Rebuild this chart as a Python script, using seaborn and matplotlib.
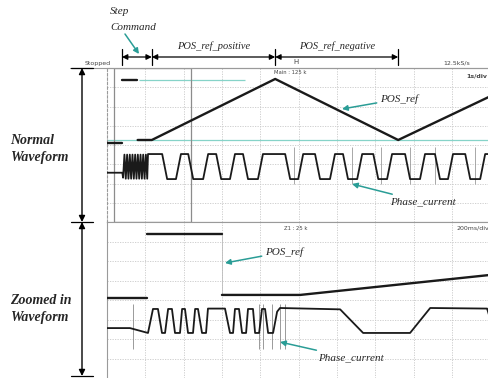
import numpy as np
import pandas as pd
import matplotlib.pyplot as plt
import matplotlib.transforms as mtransforms
from matplotlib.patches import Rectangle
import seaborn as sns

# ---- Normal waveform (1 s/div), levels in screen divisions (0..8) ----
top_pos_t = [0.0, 0.39, 0.39, 0.78, 0.80, 1.17, 4.39, 7.60, 9.97]
top_pos_v = [4.10, 4.10, 7.38, 7.38, 4.26, 4.26, 7.43, 4.26, 6.50]
top_pos_seg = [0, 0, 1, 1, 2, 2, 2, 2, 2]

top_cur_t = [0.0, 0.40, 0.42, 0.455, 0.49, 0.525, 0.56, 0.595, 0.63, 0.665, 0.70,
             0.735, 0.77, 0.805, 0.84, 0.875, 0.91, 0.945, 0.98, 1.015, 1.05,
             1.07, 1.44, 1.57, 1.80, 1.93, 2.12, 2.25, 2.51, 2.64, 2.85, 2.98,
             3.21, 3.34, 3.55, 3.68, 3.94, 4.07, 4.65, 4.78, 4.99, 5.12, 5.43,
             5.56, 5.82, 5.95, 6.16, 6.29, 6.53, 6.66, 6.95, 7.08, 7.31, 7.44,
             7.78, 7.91, 8.17, 8.30, 8.56, 8.69, 8.90, 9.03, 9.35, 9.48, 9.74,
             9.87, 9.97]
top_cur_v = [2.56, 2.56, 2.30, 3.50, 2.25, 3.50, 2.25, 3.50, 2.25, 3.50, 2.25,
             3.50, 2.25, 3.50, 2.25, 3.50, 2.25, 3.50, 2.25, 3.50, 2.25,
             3.53, 3.53, 2.23, 2.23, 3.53, 3.53, 2.23, 2.23, 3.53, 3.53, 2.23,
             2.23, 3.53, 3.53, 2.23, 2.23, 3.53, 3.53, 2.23, 2.23, 3.53, 3.53,
             2.23, 2.23, 3.53, 3.53, 2.23, 2.23, 3.53, 3.53, 2.23, 2.23, 3.53,
             3.53, 2.23, 2.23, 3.53, 3.53, 2.23, 2.23, 3.53, 3.53, 2.23, 2.23,
             3.53, 3.53]
top_spikes = [4.88, 6.40, 7.14, 7.90, 8.57, 9.61]

trigger_level = 4.26
step_level = 7.38
step_cursor = [0.83, 3.60]
zoom_window = [0.18, 2.19]

# ---- Zoomed in waveform (200 ms/div) ----
bot_pos_t = [0.0, 0.209, 0.209, 0.60, 0.60, 1.008, 1.995]
bot_pos_v = [4.10, 4.10, 7.38, 7.38, 4.26, 4.26, 5.28]
bot_pos_seg = [0, 0, 1, 1, 2, 2, 2]

bot_cur_t = [0.0, 0.120, 0.214, 0.240, 0.266, 0.287, 0.303, 0.319, 0.339, 0.355,
             0.381, 0.392, 0.407, 0.423, 0.449, 0.460, 0.475, 0.496, 0.517,
             0.527, 0.616, 0.642, 0.658, 0.668, 0.689, 0.705, 0.726, 0.736,
             0.762, 0.773, 0.794, 0.809, 0.825, 0.841, 0.867, 0.888, 0.903,
             1.217, 1.337, 1.582, 1.687, 1.984, 1.995]
bot_cur_v = [2.56, 2.56, 2.31, 3.54, 3.54, 2.31, 2.31, 3.54, 3.54, 2.31,
             2.31, 3.54, 3.54, 2.31, 2.31, 3.54, 3.54, 2.31, 2.31,
             3.56, 3.56, 2.31, 2.31, 3.54, 3.54, 2.31, 2.31, 3.54,
             3.54, 2.31, 2.31, 3.54, 3.54, 2.31, 2.31, 3.40, 3.59,
             3.52, 2.31, 2.31, 3.59, 3.56, 3.20]
bot_spikes = [0.135, 0.795, 0.815, 0.86, 0.905, 0.93]

sns.set_style("white")
plt.rcParams['font.family'] = ['DejaVu Sans']

fig = plt.figure(figsize=(4.89, 3.78), dpi=100)
ax_top = fig.add_axes([107 / 489, 156 / 378, 382 / 489, 154 / 378])
ax_bot = fig.add_axes([107 / 489, 0.0, 382 / 489, 156 / 378])

trace = '#1a1a1a'
teal = '#2a9d96'
cyan = '#86d3c8'
grid = '#c9c9c9'

for ax, xmax, step in [(ax_top, 9.97, 1.0), (ax_bot, 1.994, 0.2)]:
    ax.set_xlim(0, xmax)
    ax.set_ylim(0, 8)
    ax.set_xticks(np.arange(10) * step)
    ax.set_yticks(range(1, 8))
    ax.grid(True, color=grid, lw=0.6, ls=(0, (1.5, 1.5)))
    ax.tick_params(length=0, labelleft=False, labelbottom=False)
    for s in ax.spines.values():
        s.set_color('#9a9a9a')
        s.set_linewidth(0.8)
ax_top.spines['left'].set_linestyle((0, (2, 2)))
ax_bot.spines['bottom'].set_visible(False)
ax_top.spines['bottom'].set_color('#7a7a7a')

# ---- top panel ----
ax_top.axhline(trigger_level, color=cyan, lw=0.9, zorder=1)
ax_top.hlines(step_level, step_cursor[0], step_cursor[1], color=cyan, lw=0.9, zorder=1)
ax_top.add_patch(Rectangle((zoom_window[0], 0), zoom_window[1] - zoom_window[0], 8,
                           fill=False, ec='#8c8c8c', lw=0.9, zorder=2))
ax_top.vlines(top_spikes, 2.0, 3.9, color='#9a9a9a', lw=0.6, zorder=2)

df_pos = pd.DataFrame({'t': top_pos_t, 'v': top_pos_v, 'seg': top_pos_seg})
sns.lineplot(data=df_pos, x='t', y='v', units='seg', estimator=None, sort=False,
             color=trace, lw=1.7, ax=ax_top, zorder=3)
df_cur = pd.DataFrame({'t': top_cur_t, 'v': top_cur_v})
sns.lineplot(data=df_cur, x='t', y='v', estimator=None, sort=False,
             color=trace, lw=1.3, ax=ax_top, zorder=3)

# ---- bottom panel ----
ax_bot.vlines(bot_spikes, 1.5, 3.8, color='#8a8a8a', lw=0.6, zorder=2)
df_bpos = pd.DataFrame({'t': bot_pos_t, 'v': bot_pos_v, 'seg': bot_pos_seg})
sns.lineplot(data=df_bpos, x='t', y='v', units='seg', estimator=None, sort=False,
             color=trace, lw=1.7, ax=ax_bot, zorder=3)
ax_bot.vlines(bot_pos_t[3], bot_pos_v[4], bot_pos_v[3], color='#bbbbbb', lw=0.6)
df_bcur = pd.DataFrame({'t': bot_cur_t, 'v': bot_cur_v})
sns.lineplot(data=df_bcur, x='t', y='v', estimator=None, sort=False,
             color=trace, lw=1.3, ax=ax_bot, zorder=3)

for ax in (ax_top, ax_bot):
    ax.set_xlabel('')
    ax.set_ylabel('')

# ---- annotation layer (figure pixels) ----
ann = fig.add_axes([0, 0, 1, 1], zorder=5)
ann.set_xlim(0, 489)
ann.set_ylim(378, 0)
ann.axis('off')
ann.patch.set_alpha(0)

serif = 'Liberation Serif'
scope = dict(family='DejaVu Sans', color='#444444')

ann.text(111, 63, 'Stopped', ha='right', va='center', fontsize=4.5, **scope)
ann.text(470, 63, '12.5kS/s', ha='right', va='center', fontsize=4.5, **scope)
ann.text(487, 76, '1s/div', ha='right', va='center', fontsize=4.5, fontweight='bold', **scope)
ann.text(290, 72, 'Main : 125 k', ha='center', va='center', fontsize=3.8, **scope)
ann.text(296, 62, 'H', ha='center', va='center', fontsize=5, **scope)
ann.text(296, 228, 'Z1 : 25 k', ha='center', va='center', fontsize=3.8, **scope)
ann.text(489, 228, '200ms/div', ha='right', va='center', fontsize=4.5, **scope)
ann.plot([70, 489], [68, 68], color='#9a9a9a', lw=0.8)

# left brackets
for y0, y1 in [(68, 222), (222, 376)]:
    ann.annotate('', xy=(82, y0), xytext=(82, y1),
                 arrowprops=dict(arrowstyle='<|-|>', color='black', lw=1,
                                 shrinkA=0, shrinkB=0, mutation_scale=9))
for y in (68, 222, 376):
    ann.plot([71, 93], [y, y], color='black', lw=0.9)

for txt, y in [('Normal', 141), ('Waveform', 157), ('Zoomed in', 300), ('Waveform', 317)]:
    ann.text(10, y, txt, fontsize=10, family=serif, style='italic',
             fontweight='bold', va='center')

# dimension arrows above the scope, x taken from the ramp data
bt = mtransforms.blended_transform_factory(ax_top.transData, ann.transData)
marks = [top_pos_t[1], top_pos_t[5], top_pos_t[6], top_pos_t[7]]
for m in marks:
    ann.plot([m, m], [49, 65], color='black', lw=0.9, transform=bt)
for a, b in zip(marks[:-1], marks[1:]):
    ann.annotate('', xy=(a, 57), xytext=(b, 57), xycoords=bt, textcoords=bt,
                 arrowprops=dict(arrowstyle='<|-|>', color='black', lw=0.9,
                                 shrinkA=0, shrinkB=0, mutation_scale=8))
ann.text((marks[1] + marks[2]) / 2, 46, 'POS_ref_positive', transform=bt,
         ha='center', va='center', fontsize=7.5, family=serif, style='italic')
ann.text((marks[2] + marks[3]) / 2, 46, 'POS_ref_negative', transform=bt,
         ha='center', va='center', fontsize=7.5, family=serif, style='italic')

ann.text(110, 12, 'Step', fontsize=8, family=serif, style='italic', va='center')
ann.text(110, 27, 'Command', fontsize=8, family=serif, style='italic', va='center')

teal_arrow = dict(arrowstyle='-|>', color=teal, lw=1.1, shrinkA=0, shrinkB=0,
                  mutation_scale=8)
ann.annotate('', xy=(139, 54), xytext=(125, 34), arrowprops=teal_arrow)

ann.annotate('POS_ref', xy=(342, 109), xytext=(380, 99), fontsize=8, family=serif,
             style='italic', va='center', arrowprops=teal_arrow)
ann.annotate('Phase_current', xy=(352, 184), xytext=(390, 202), fontsize=8,
             family=serif, style='italic', va='center', arrowprops=teal_arrow)
ann.annotate('POS_ref', xy=(225, 263), xytext=(265, 252), fontsize=8, family=serif,
             style='italic', va='center', arrowprops=teal_arrow)
ann.annotate('Phase_current', xy=(280, 342), xytext=(318, 358), fontsize=8,
             family=serif, style='italic', va='center', arrowprops=teal_arrow)

fig.savefig('out.png', dpi=100)
